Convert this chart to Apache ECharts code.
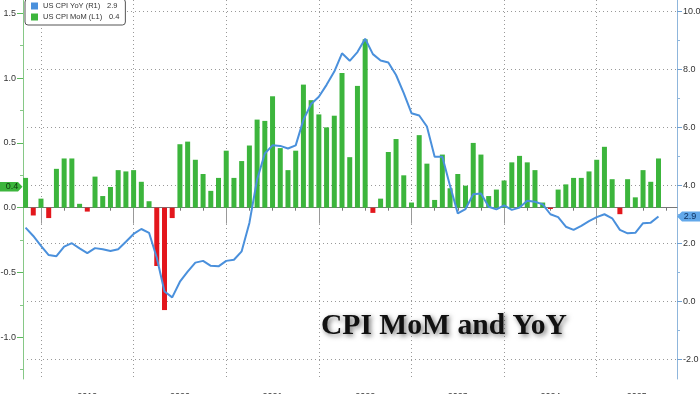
<!DOCTYPE html>
<html><head><meta charset="utf-8">
<script src="https://cdn.jsdelivr.net/npm/echarts@6/dist/echarts.min.js"></script>
<style>html,body{margin:0;padding:0;background:#fff}#c{width:700px;height:394px}</style>
</head><body><div id="c"></div>
<script>
// ---- data ----
const startMonth = '2018-10';
const momValues = [0.23,-0.06,0.07,-0.08,0.30,0.38,0.38,0.03,-0.03,0.24,
  0.09,0.16,0.29,0.28,0.29,0.20,0.05,-0.45,-0.79,-0.08,
  0.49,0.51,0.37,0.26,0.13,0.23,0.44,0.23,0.36,0.48,
  0.68,0.67,0.86,0.46,0.29,0.44,0.95,0.83,0.72,0.62,
  0.71,1.04,0.39,0.94,1.30,-0.04,0.07,0.43,0.53,0.25,
  0.04,0.56,0.34,0.06,0.41,0.15,0.26,0.17,0.50,0.41,
  0.09,0.14,0.21,0.35,0.40,0.35,0.29,0.04,-0.01,0.14,
  0.18,0.23,0.23,0.28,0.37,0.47,0.22,-0.05,0.22,0.08,
  0.29,0.20,0.38];
const yoyValues = [2.54,2.25,1.91,1.59,1.55,1.88,2.00,1.82,1.66,1.83,
  1.79,1.73,1.79,2.05,2.32,2.49,2.36,1.50,0.33,0.13,
  0.67,1.02,1.33,1.39,1.22,1.20,1.39,1.43,1.72,2.70,
  4.20,5.10,5.38,5.36,5.27,5.38,6.26,6.81,7.06,7.47,
  7.93,8.56,8.30,8.60,9.06,8.53,8.31,8.24,7.81,7.18,
  6.49,6.41,6.03,4.99,4.99,3.98,3.03,3.18,3.69,3.72,
  3.26,3.17,3.31,3.15,3.23,3.47,3.43,3.34,3.00,2.90,
  2.57,2.46,2.60,2.76,2.90,3.00,2.86,2.46,2.34,2.36,
  2.69,2.71,2.92];
const yearLabels = ['2019','2020','2021','2022','2023','2024','2025'];
const leftTicks = [-1.0,-0.5,0.0,0.5,1.0,1.5];
const leftMinorTicks = [-1.25,-0.75,-0.25,0.25,0.75,1.25];
const rightTicks = [-2,0,2,4,6,8,10];
const rightMinorTicks = [-1,1,3,5,7,9];
const yoyName = 'US CPI YoY (R1)';
const momName = 'US CPI MoM (L1)';

// ---- build ----
const months = [];
{ let [y, m] = startMonth.split('-').map(Number);
  for (let i = 0; i < momValues.length; i++) { months.push(y + '-' + String(m).padStart(2,'0')); m++; if (m > 12) { m = 1; y++; } } }
const tOf = s => { const [y, m] = s.split('-').map(Number); return (y - 2018) * 12 + m; };
const X_MIN = 9.67, X_MAX = 94.4;
const yearStarts = yearLabels.map(y => (Number(y) - 2018) * 12);
const yearCenters = yearStarts.map(s => (s + Math.min(s + 12, X_MAX)) / 2);
const quarterTicks = [];
for (let t = yearStarts[0]; t <= X_MAX; t += 3) quarterTicks.push(t);

const red = '#e3161c', green = '#3cb53c', blue = '#4a90dc';
const gridColor = '#999';
const font = 'Liberation Sans';
const legendFont = 7.5;
const last = a => a[a.length - 1];

const mctx = document.createElement('canvas').getContext('2d');
mctx.font = legendFont + 'px "Liberation Sans"';
const NAME_COL = 64;
const padFor = name => Math.max(2, NAME_COL - mctx.measureText(name).width);

const barData = months.map((m, i) => {
  const v = momValues[i];
  const d = { value: [tOf(m), v] };
  if (v < 0) d.itemStyle = { color: red };
  return d;
});
const lineData = months.map((m, i) => [tOf(m), yoyValues[i]]);

const chart = echarts.init(document.getElementById('c'), null, { renderer: 'canvas' });
const option = {
  animation: false,
  backgroundColor: '#fff',
  title: {
    text: 'CPI MoM and YoY', left: 321, top: 311, padding: 0,
    textStyle: { fontFamily: 'Liberation Serif', fontWeight: 'bold', fontSize: 29.6, color: '#111',
      textShadowColor: 'rgba(0,0,0,0.55)', textShadowBlur: 5, textShadowOffsetX: 2, textShadowOffsetY: 2 }
  },
  legend: {
    left: 25, top: -1, orient: 'vertical', itemWidth: 7, itemHeight: 7, itemGap: 3,
    padding: [3, 6, 4, 6], backgroundColor: '#fff', borderColor: '#555', borderWidth: 1, borderRadius: 3,
    data: [{ name: yoyName, icon: 'rect' }, { name: momName, icon: 'rect' }],
    formatter: name => {
      const v = (name === yoyName ? last(yoyValues) : last(momValues)).toFixed(1);
      return name + '{v|' + v + '}';
    },
    textStyle: { fontFamily: font, fontSize: legendFont, color: '#333',
      rich: { v: { fontFamily: font, fontSize: legendFont, color: '#333', padding: [0, 0, 0, padFor(yoyName)] } } },
    z: 10
  },
  grid: { left: 23, right: 23, top: 0, bottom: 15, containLabel: false, outerBoundsMode: 'none' },
  xAxis: [
    { type: 'value', min: X_MIN, max: X_MAX,
      axisLine: { show: true, lineStyle: { color: '#777', width: 1 } },
      axisTick: { show: true, customValues: quarterTicks, length: 3, lineStyle: { color: '#777' } },
      axisLabel: { show: true, customValues: yearCenters, margin: 13, fontFamily: font, fontSize: 9, color: '#333',
        formatter: v => { const i = yearCenters.findIndex(c => Math.abs(c - v) < 0.01); return i >= 0 ? yearLabels[i] : ''; } },
      splitLine: { show: false } },
    { type: 'value', min: X_MIN, max: X_MAX, position: 'bottom',
      axisLine: { show: false },
      axisTick: { show: true, customValues: yearStarts, length: 16, lineStyle: { color: '#999' } },
      axisLabel: { show: false },
      splitLine: { show: true, lineStyle: { color: gridColor, type: [1, 3], width: 1 } } }
  ],
  yAxis: [
    { type: 'value', position: 'left', min: -1.322, max: 1.603,
      axisLine: { show: true, lineStyle: { color: '#86c886' } },
      axisTick: { show: true, customValues: leftTicks, length: 6, lineStyle: { color: '#5cb85c' } },
      axisLabel: { customValues: leftTicks, margin: 7, fontFamily: font, fontSize: 9, color: '#333', formatter: v => v.toFixed(1) },
      splitLine: { show: false } },
    { type: 'value', position: 'left', min: -1.322, max: 1.603,
      axisLine: { show: false },
      axisTick: { show: true, customValues: leftMinorTicks, length: 3, lineStyle: { color: '#86c886' } },
      axisLabel: { show: false }, splitLine: { show: false } },
    { type: 'value', position: 'right', min: -2.69, max: 10.40,
      axisLine: { show: true, lineStyle: { color: '#8fb6dc' } },
      axisTick: { show: true, customValues: rightTicks, length: 5, lineStyle: { color: '#6f9fd0' } },
      axisLabel: { customValues: rightTicks, margin: 6, fontFamily: font, fontSize: 9, color: '#333', formatter: v => v.toFixed(1) },
      splitLine: { show: true, lineStyle: { color: gridColor, type: [1, 3], width: 1 } } },
    { type: 'value', position: 'right', min: -2.69, max: 10.40,
      axisLine: { show: false },
      axisTick: { show: true, customValues: rightMinorTicks, length: 3, lineStyle: { color: '#8fb6dc' } },
      axisLabel: { show: false }, splitLine: { show: false } }
  ],
  series: [
    { name: momName, type: 'bar', xAxisIndex: 0, yAxisIndex: 0, barWidth: 5,
      itemStyle: { color: green }, data: barData, z: 3 },
    { name: yoyName, type: 'line', xAxisIndex: 0, yAxisIndex: 2, showSymbol: false, symbol: 'none',
      itemStyle: { color: blue }, lineStyle: { color: blue, width: 2 }, data: lineData, z: 4 }
  ]
};
chart.setOption(option);

// value tags
const yTag = chart.convertToPixel({ yAxisIndex: 2 }, last(yoyValues));
const xr = 677;
chart.setOption({
  graphic: [
    { type: 'polygon', z: 20, shape: { points: [[xr, yTag], [xr + 5, yTag - 5], [700, yTag - 5], [700, yTag + 5], [xr + 5, yTag + 5]] },
      style: { fill: '#62a8ea' } },
    { type: 'text', z: 21, x: 690, y: yTag, style: { text: last(yoyValues).toFixed(1), fill: '#0b2d5c', font: '9px "Liberation Sans"', align: 'center', verticalAlign: 'middle' } },
    { type: 'polygon', z: 20, shape: { points: [[0, 182], [18, 182], [22.5, 186.8], [18, 191.6], [0, 191.6]] },
      style: { fill: green } },
    { type: 'text', z: 21, x: 12, y: 186.8, style: { text: last(momValues).toFixed(1), fill: '#0e3a0e', font: '9px "Liberation Sans"', align: 'center', verticalAlign: 'middle' } }
  ]
});
</script>
</body></html>
